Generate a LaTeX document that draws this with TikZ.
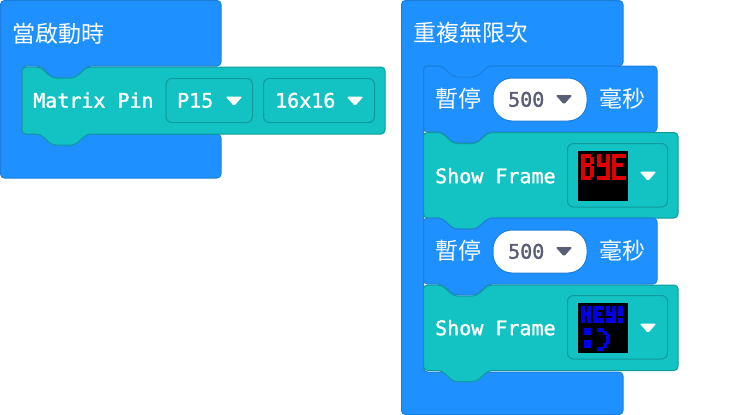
\documentclass[tikz,border=0pt]{standalone}
\usepackage{fontspec}
\setmonofont[FakeBold=1.5]{DejaVu Sans Mono}
\newfontfamily\cjkfont{Noto Sans CJK TC}
\definecolor{loopblue}{HTML}{1E90FF}
\definecolor{loopedge}{HTML}{1C7FDC}
\definecolor{pinteal}{HTML}{13C2C2}
\definecolor{pinedge}{HTML}{0F9B9B}
\definecolor{menugray}{HTML}{575E75}
\tikzset{
    x=1pt, y=-1pt,
    blueblock/.style={fill=loopblue, draw=loopedge, line width=1pt, rounded corners=4},
    tealblock/.style={fill=pinteal, draw=pinedge, line width=1pt, rounded corners=4},
    menubox/.style={fill=pinteal, draw=pinedge, line width=1pt, rounded corners=6},
    pillbox/.style={fill=white, draw=loopedge, line width=1pt, rounded corners=19},
    cjklabel/.style={anchor=mid west, inner sep=0, yshift=-6pt, text=white, font=\cjkfont\fontsize{23}{23}\selectfont},
    monolabel/.style={anchor=mid west, inner sep=0, yshift=-5pt, text=white, font=\ttfamily\fontsize{20}{20}\selectfont},
    numlabel/.style={monolabel, text=menugray}
}
% stacked block: style, left, top, width, height
\newcommand{\stackblock}[5]{
    \draw [#1] (#2, #3+20) -- (#2, #3) -- (#2+18, #3) -- (#2+30, #3+11) -- (#2+53, #3+11) -- (#2+65, #3)
        -- (#2+#4, #3) -- (#2+#4, #3+#5) -- (#2+65, #3+#5) -- (#2+53, #3+#5+11) -- (#2+30, #3+#5+11)
        -- (#2+18, #3+#5) -- (#2, #3+#5) -- cycle;
}
% hat block: left, right, top of lower arm, bottom
\newcommand{\hatblock}[4]{
    \draw [blueblock] (#1, 30) -- (#1, 0.5) -- (#2, 0.5) -- (#2, 66) -- (#1+87, 66) -- (#1+75, 78) -- (#1+52, 78)
        -- (#1+40, 66) -- (#1+22, 66) -- (#1+22, #3) -- (#2, #3) -- (#2, #4) -- (#1, #4) -- cycle;
}
% menu triangle: colour, centre x, centre y
\newcommand{\menumark}[3]{
    \fill [#1, rounded corners=1.5] (#2-8.5, #3-4.5) -- (#2+8.5, #3-4.5) -- (#2, #3+5) -- cycle;
}
% led pixels on the 16x16 frame: colour, left, top, list of col/row/col/row
\newcommand{\ledruns}[4]{
    \foreach \ca/\ra/\cb/\rb in {#4}
        \filldraw [#1, line width=0.3pt] (#2+\ca*3.125, #3+\ra*3.125) rectangle (#2+\cb*3.125+3.125, #3+\rb*3.125+3.125);
}
\begin{document}
\begin{tikzpicture}
    \useasboundingbox (0, 0) rectangle (750, 415);

    % left stack
    \hatblock{0.5}{221}{134}{178}
    \stackblock{tealblock}{22}{67}{363}{67}
    \node [cjklabel] (startlabel) at (12, 34) {當啟動時};
    \node [monolabel] (pinlabel) at (33, 100.5) {Matrix Pin};
    \draw [menubox] (166, 78.5) rectangle (252.5, 122.5);
    \node [monolabel] (pinvalue) at (177, 100.5) {P15};
    \menumark{white}{234}{101}
    \draw [menubox] (263.5, 78.5) rectangle (374.5, 122.5);
    \node [monolabel] (sizevalue) at (275, 100.5) {16x16};
    \menumark{white}{355}{101}

    % right stack
    \hatblock{401.5}{623}{372}{414.5}
    \stackblock{blueblock}{423.5}{66}{233.5}{66}
    \stackblock{tealblock}{423.5}{132.5}{254.5}{85.5}
    \stackblock{blueblock}{423.5}{218}{233.5}{66}
    \stackblock{tealblock}{423.5}{285}{254.5}{85.5}
    \node [cjklabel] (looplabel) at (413, 33) {重複無限次};

    % first pause
    \node [cjklabel] (pausea) at (435, 99) {暫停};
    \draw [pillbox] (493, 78) rectangle (587, 121);
    \node [numlabel] (msa) at (508, 99.5) {500};
    \menumark{menugray}{564}{99.5}
    \node [cjklabel] (unita) at (599, 99) {毫秒};

    % first frame
    \node [monolabel] (framea) at (435, 176) {Show Frame};
    \draw [menubox] (567.5, 143.5) rectangle (667.5, 207);
    \fill [black] (578, 151) rectangle (628, 201);
    \ledruns{red!88!black}{578}{151}{1/1/1/8, 2/1/3/1, 4/2/4/3, 2/4/3/4, 4/5/4/7, 2/8/3/8,
        6/1/6/4, 9/1/9/8, 7/4/8/4, 6/8/8/8,
        11/1/11/8, 12/1/14/1, 12/4/13/4, 12/8/14/8}
    \menumark{white}{648}{176}

    % second pause
    \node [cjklabel] (pauseb) at (435, 251) {暫停};
    \draw [pillbox] (493, 230) rectangle (587, 273);
    \node [numlabel] (msb) at (508, 251.5) {500};
    \menumark{menugray}{564}{251.5}
    \node [cjklabel] (unitb) at (599, 251) {毫秒};

    % second frame
    \node [monolabel] (frameb) at (435, 328) {Show Frame};
    \draw [menubox] (567.5, 295.5) rectangle (667.5, 359);
    \fill [black] (578, 303) rectangle (628, 353);
    \ledruns{blue!90!black}{578}{303}{1/1/1/5, 3/1/3/5, 2/3/2/3,
        5/1/5/5, 6/1/7/1, 6/3/6/3, 6/5/7/5,
        9/1/9/3, 11/1/11/5, 10/3/10/3, 9/5/10/5,
        13/1/13/3, 13/5/13/5,
        2/8/3/9, 2/12/3/13,
        6/8/7/8, 8/9/8/9, 9/10/9/12, 8/13/8/13, 6/14/7/14}
    \menumark{white}{648}{328}
\end{tikzpicture}
\end{document}
